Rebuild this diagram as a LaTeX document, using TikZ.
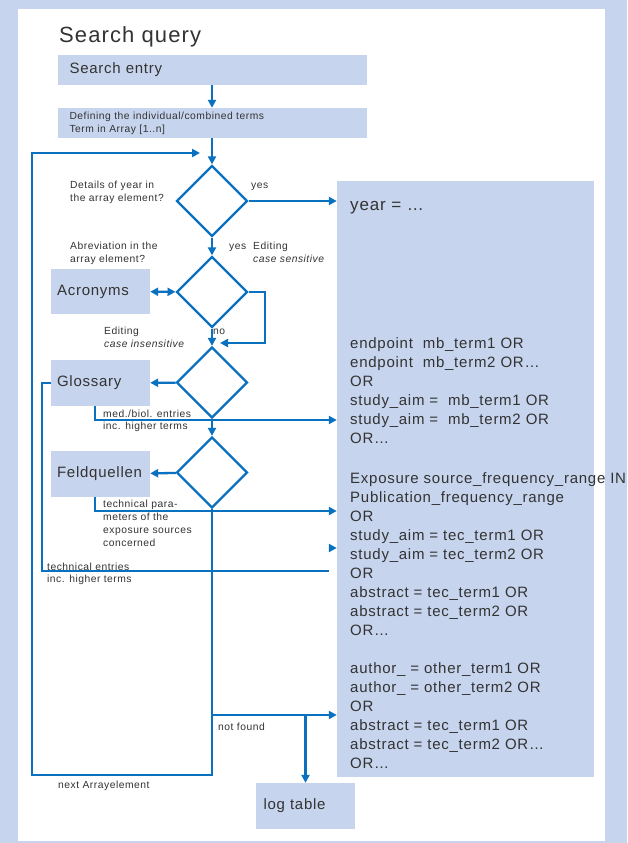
\documentclass[tikz,border=0pt]{standalone}
\usepackage{fontspec}
\setmainfont{Liberation Sans}[LetterSpace=5]
\usetikzlibrary{shapes.geometric,arrows.meta}
\definecolor{lightblue}{RGB}{198,212,237}
\definecolor{flowblue}{RGB}{10,112,192}
\definecolor{txtgray}{RGB}{51,51,51}

\begin{document}
\begin{tikzpicture}[x=1pt,y=-1pt,
	box/.style={fill=lightblue,inner ysep=0,text=txtgray,align=left,font=\fontsize{15}{18}\selectfont},
	dia/.style={diamond,draw=flowblue,line width=2.3pt,minimum width=71pt,minimum height=71pt,inner sep=0},
	wire/.style={draw=flowblue,line width=2.3pt},
	arr/.style={wire,-{Triangle[length=8pt,width=8pt]}},
	arrs/.style={wire,{Triangle[length=8pt,width=8pt]}-{Triangle[length=8pt,width=8pt]}},
	small/.style={anchor=base west,align=left,inner sep=0,text=txtgray,font=\fontsize{10.3}{13}\selectfont},
	big/.style={anchor=base west,align=left,inner sep=0,text=txtgray,font=\fontsize{15}{19}\selectfont}]
\useasboundingbox (0,0) rectangle (627,843);
\fill[lightblue] (0,0) rectangle (627,843);
\fill[white] (18,9) rectangle (605,841);

\node [anchor=base west,inner sep=0,text=txtgray,font=\fontsize{22}{26}\selectfont] (t) at (59,43) {Search query};

\node [box,text width=285pt,inner xsep=12pt,minimum height=30pt] (a) at (212,70) {Search entry};
\node [box,text width=285pt,inner xsep=12pt,minimum height=30pt,font=\fontsize{10.3}{13}\selectfont] (b) at (212,123)
	{Defining the individual/combined terms\\Term in Array [1..n]};
\node [dia] (c) at (212,201) {};
\node [dia] (d) at (212,292) {};
\node [box,text width=87pt,inner xsep=6pt,minimum height=45pt] (e) at (100.5,291.5) {Acronyms};
\node [dia] (f) at (212,382.5) {};
\node [box,text width=87pt,inner xsep=6pt,minimum height=46pt] (g) at (100.5,383) {Glossary};
\node [dia] (h) at (212,472.5) {};
\node [box,text width=87pt,inner xsep=6pt,minimum height=46pt] (i) at (100.5,474) {Feldquellen};
\node [fill=lightblue,inner sep=0,minimum width=257pt,minimum height=596pt] (j) at (465.5,479) {};
\node [box,text width=84pt,inner xsep=7.5pt,minimum height=46pt] (k) at (305.5,806) {log table};

% labels (placed at the baseline of the last line)
\node [small] (l1) at (70,201) {Details of year in\\the array element?};
\node [small] (l2) at (251,188) {yes};
\node [small] (l3) at (70,262) {Abreviation in the\\array element?};
\node [small] (l4) at (229,249) {yes};
\node [small] (l5) at (253,262) {Editing\\\textit{case sensitive}};
\node [small] (l6) at (104,347) {Editing\\\textit{case insensitive}};
\node [small] (l7) at (213,334) {no};
\node [small,font=\fontsize{10.3}{12.5}\selectfont] (l8) at (103,429.5) {med./biol. entries\\inc. higher terms};
\node [small,font=\fontsize{10.3}{12.7}\selectfont] (l9) at (103,546) {technical para-\\meters of the\\exposure sources\\concerned};
\node [small,font=\fontsize{10.3}{12}\selectfont] (l10) at (47,582) {technical entries\\inc. higher terms};
\node [small] (l11) at (218,730) {not found};
\node [small] (l12) at (58,788) {next Arrayelement};

% query text
\node [big,font=\fontsize{17}{19}\selectfont] (r1) at (350,210) {year = \dots};
\node [big] (r2) at (350,443) {endpoint~~mb\_term1 OR\\
	endpoint~~mb\_term2 OR\dots\\
	OR\\
	study\_aim =~~mb\_term1 OR\\
	study\_aim =~~mb\_term2 OR\\
	OR\dots};
\node [big] (r3) at (350,768) {Exposure source\_frequency\_range IN\\
	Publication\_frequency\_range\\
	OR\\
	study\_aim = tec\_term1 OR\\
	study\_aim = tec\_term2 OR\\
	OR\\
	abstract = tec\_term1 OR\\
	abstract = tec\_term2 OR\\
	OR\dots\\[19pt]
	author\_ = other\_term1 OR\\
	author\_ = other\_term2 OR\\
	OR\\
	abstract = tec\_term1 OR\\
	abstract = tec\_term2 OR\dots\\
	OR\dots};

% connectors
\coordinate (p) at (32,775);
\coordinate (q) at (32,153);
\coordinate (r) at (200,153);
\coordinate (s) at (265,343);
\coordinate (u) at (220,343);
\coordinate (v) at (42,571);
\coordinate (w) at (329,571);
\coordinate (x) at (329,548);
\coordinate (m) at (95,420);
\coordinate (n) at (95,511);
\coordinate (o) at (212,715);

\draw[arr] (a) -- (b);
\draw[arr] (b) -- (c);
\draw[arr] (h.south) |- (p) -- (q) -- (r);
\draw[arr] (c) -- (c -| j.west);
\draw[arr] (c) -- (d);
\draw[arrs] (e) -- (d);
\draw[arr] (d.east) -| (s) -- (u);
\draw[arr] (d) -- (f);
\draw[arr] (f) -- (g);
\draw[wire] (g.west) -| (v) -- (w);
\draw[arr] (x) -- (x -| j.west);
\draw[arr] (m |- g.south) -- (m) -- (m -| j.west);
\draw[arr] (f) -- (h);
\draw[arr] (h) -- (i);
\draw[arr] (n |- i.south) -- (n) -- (n -| j.west);
\draw[arr] (o) -- (o -| j.west);
\draw[arr] (o -| k) -- (k);
\end{tikzpicture}
\end{document}
